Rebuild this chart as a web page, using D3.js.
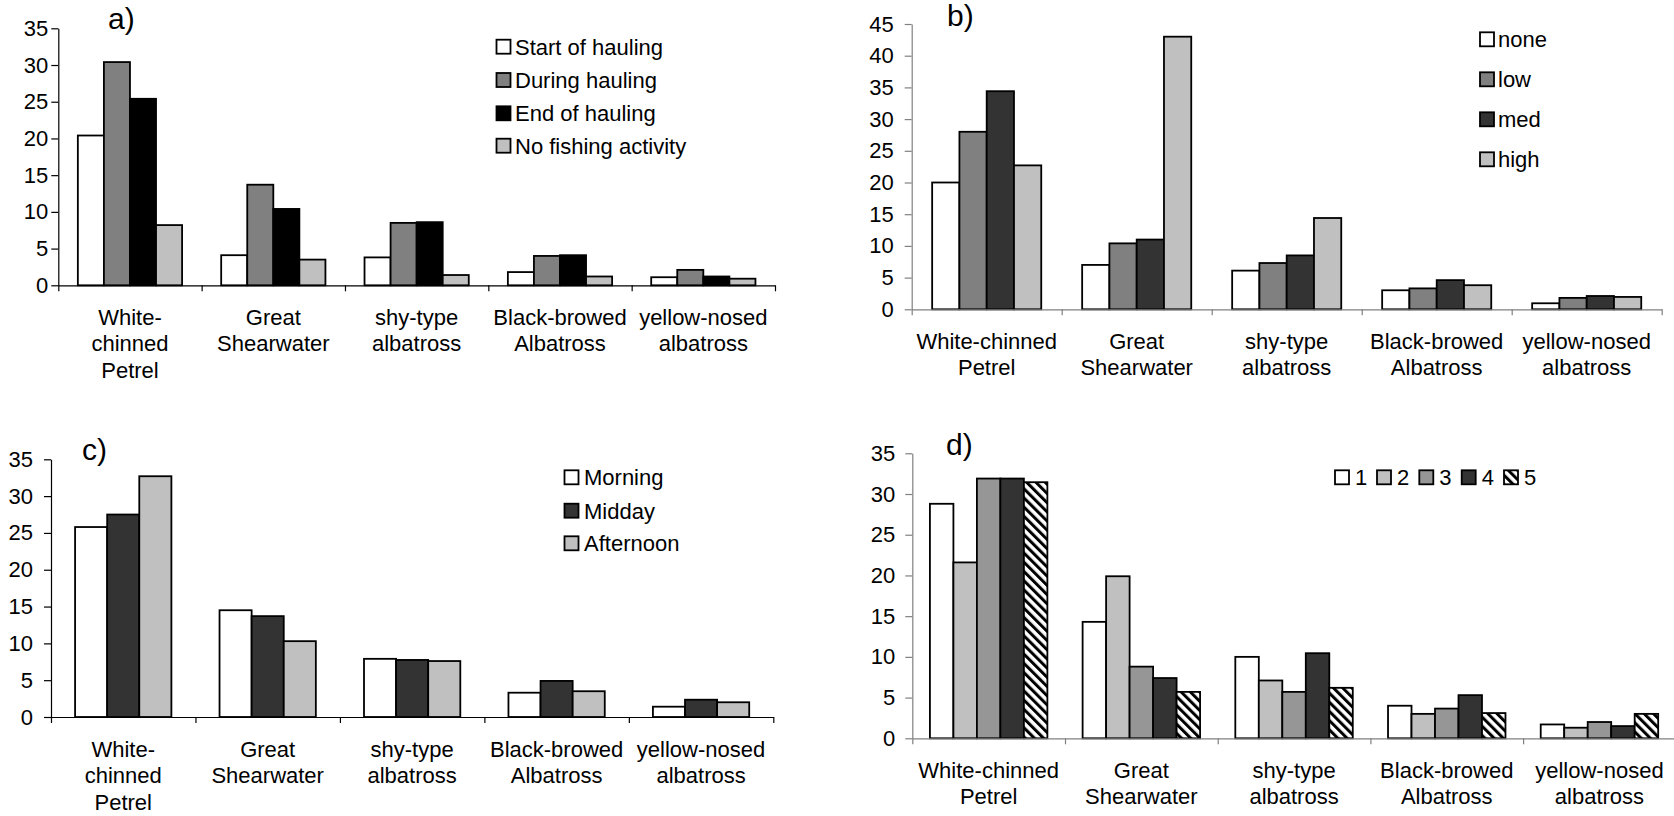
<!DOCTYPE html>
<html>
<head>
<meta charset="utf-8">
<script src="https://cdn.jsdelivr.net/npm/d3@7/dist/d3.min.js"></script>
<style>
  html, body { margin: 0; padding: 0; background: #fff; }
  svg { display: block; font-family: "Liberation Sans", Arial, sans-serif; }
</style>
</head>
<body>
<svg id="chart" width="1674" height="816"></svg>
<script>
// Species shown along every x axis
const categories = ["White-chinned Petrel", "Great Shearwater", "shy-type albatross", "Black-browed Albatross", "yellow-nosed albatross"];
const labelsNarrow = [["White-", "chinned", "Petrel"], ["Great", "Shearwater"], ["shy-type", "albatross"], ["Black-browed", "Albatross"], ["yellow-nosed", "albatross"]];
const labelsWide = [["White-chinned", "Petrel"], ["Great", "Shearwater"], ["shy-type", "albatross"], ["Black-browed", "Albatross"], ["yellow-nosed", "albatross"]];

// a) fishing activity
const stagesA = ["Start of hauling", "During hauling", "End of hauling", "No fishing activity"];
const startHauling  = [20.4, 4.1, 3.8, 1.8, 1.1];
const duringHauling = [30.4, 13.7, 8.5, 4.0, 2.1];
const endHauling    = [25.4, 10.4, 8.6, 4.1, 1.2];
const noFishing     = [8.2, 3.5, 1.4, 1.2, 0.9];
const ticksA = [0, 5, 10, 15, 20, 25, 30, 35];

// b) none / low / med / high
const levelsB = ["none", "low", "med", "high"];
const levelNone = [20.0, 7.0, 6.1, 3.0, 0.95];
const levelLow  = [28.0, 10.4, 7.3, 3.3, 1.8];
const levelMed  = [34.4, 11.0, 8.5, 4.6, 2.1];
const levelHigh = [22.7, 43.0, 14.4, 3.8, 1.95];
const ticksB = [0, 5, 10, 15, 20, 25, 30, 35, 40, 45];

// c) time of day
const periodsC = ["Morning", "Midday", "Afternoon"];
const morning   = [25.8, 14.5, 7.9, 3.3, 1.4];
const midday    = [27.5, 13.7, 7.75, 4.9, 2.35];
const afternoon = [32.7, 10.3, 7.6, 3.5, 2.0];
const ticksC = [0, 5, 10, 15, 20, 25, 30, 35];

// d) classes 1-5
const classesD = ["1", "2", "3", "4", "5"];
const class1 = [28.8, 14.3, 10.0, 4.0, 1.7];
const class2 = [21.6, 19.9, 7.1, 3.0, 1.3];
const class3 = [31.9, 8.8, 5.7, 3.65, 2.0];
const class4 = [31.9, 7.4, 10.45, 5.3, 1.5];
const class5 = [31.45, 5.7, 6.2, 3.1, 3.0];
const ticksD = [0, 5, 10, 15, 20, 25, 30, 35];

const svg = d3.select("#chart");
const FONT = 22;

// diagonal hatch for class 5
const defs = svg.append("defs");
const hatch = defs.append("pattern")
  .attr("id", "hatch")
  .attr("patternUnits", "userSpaceOnUse")
  .attr("width", 6.5).attr("height", 6.5)
  .attr("patternTransform", "rotate(-45)");
hatch.append("rect").attr("width", 6.5).attr("height", 6.5).attr("fill", "#fff");
hatch.append("rect").attr("width", 3).attr("height", 6.5).attr("fill", "#000");

const panels = [
  {
    title: "a)", titleX: 108, titleY: 29,
    left: 58.3, right: 775, bottom: 285.3, top: 28.3, max: 35, ticks: ticksA,
    axisColor: "#000", tickPad: 3, labels: labelsNarrow,
    series: stagesA, values: [startHauling, duringHauling, endHauling, noFishing],
    fills: ["#ffffff", "#808080", "#000000", "#c0c0c0"],
    legend: { x: 496.5, rows: [46.7, 80, 113.3, 145.7], textDx: 18.5 }
  },
  {
    title: "b)", titleX: 947, titleY: 26,
    left: 911.7, right: 1661.7, bottom: 309.3, top: 24, max: 45, ticks: ticksB,
    axisColor: "#808080", tickPad: 11, labels: labelsWide,
    series: levelsB, values: [levelNone, levelLow, levelMed, levelHigh],
    fills: ["#ffffff", "#808080", "#333333", "#c0c0c0"],
    legend: { x: 1480, rows: [39.3, 79.3, 119.3, 159.3], textDx: 18 }
  },
  {
    title: "c)", titleX: 82, titleY: 460,
    left: 51, right: 773.3, bottom: 717, top: 459.3, max: 35, ticks: ticksC,
    axisColor: "#000", tickPad: 11, labels: labelsNarrow,
    series: periodsC, values: [morning, midday, afternoon],
    fills: ["#ffffff", "#333333", "#c0c0c0"],
    legend: { x: 564.5, rows: [477.3, 510.7, 543.3], textDx: 19.5 }
  },
  {
    title: "d)", titleX: 946, titleY: 455,
    left: 912.3, right: 1675.8, bottom: 738.3, top: 453.3, max: 35, ticks: ticksD,
    axisColor: "#808080", tickPad: 10, labels: labelsWide,
    series: classesD, values: [class1, class2, class3, class4, class5],
    fills: ["#ffffff", "#c0c0c0", "#969696", "#333333", "url(#hatch)"],
    legendRow: { y: 477.3, xs: [1335, 1377, 1419.3, 1461.7, 1504], textDx: 20 }
  }
];

panels.forEach(p => {
  const g = svg.append("g");

  const y = d3.scaleLinear().domain([0, p.max]).range([p.bottom, p.top]);
  const x0 = d3.scaleBand().domain(categories).range([p.left, p.right]).padding(0);
  const x1 = d3.scaleBand().domain(p.series).range([0, x0.bandwidth()])
    .paddingInner(0).paddingOuter(0.75);
  const xEdge = d3.scaleLinear().domain([0, categories.length]).range([p.left, p.right]);

  // bars
  p.series.forEach((s, si) => {
    g.append("g").selectAll("rect")
      .data(p.values[si])
      .join("rect")
      .attr("x", (d, i) => x0(categories[i]) + x1(s))
      .attr("y", d => y(d))
      .attr("width", x1.bandwidth())
      .attr("height", d => y(0) - y(d))
      .attr("fill", p.fills[si])
      .attr("stroke", "#000")
      .attr("stroke-width", 1.8);
  });

  // y axis
  const ya = g.append("g")
    .attr("transform", `translate(${p.left},0)`)
    .call(d3.axisLeft(y).tickValues(p.ticks).tickSize(7).tickSizeOuter(0).tickPadding(p.tickPad));
  ya.selectAll("path, line").attr("stroke", p.axisColor).attr("stroke-width", 1.2);
  ya.selectAll("text").attr("font-size", FONT).attr("fill", "#000").attr("font-family", null);

  // x axis with ticks at the category boundaries
  const xa = g.append("g")
    .attr("transform", `translate(0,${p.bottom})`)
    .call(d3.axisBottom(xEdge).tickValues(d3.range(categories.length + 1)).tickSize(6).tickSizeOuter(0).tickFormat(""));
  xa.selectAll("path, line").attr("stroke", p.axisColor).attr("stroke-width", 1.2);

  // category labels
  const lab = g.append("g").selectAll("text")
    .data(p.labels)
    .join("text")
    .attr("text-anchor", "middle")
    .attr("font-size", FONT)
    .attr("x", (d, i) => x0(categories[i]) + x0.bandwidth() / 2)
    .attr("y", p.bottom + 39.5);
  lab.selectAll("tspan")
    .data(d => d)
    .join("tspan")
    .attr("x", function () { return d3.select(this.parentNode).attr("x"); })
    .attr("dy", (d, i) => i === 0 ? 0 : 26.5)
    .text(d => d);

  // panel letter
  g.append("text")
    .attr("x", p.titleX).attr("y", p.titleY)
    .attr("font-size", 30)
    .text(p.title);

  // legend
  if (p.legend) {
    const lg = g.append("g").selectAll("g")
      .data(p.series)
      .join("g")
      .attr("transform", (d, i) => `translate(${p.legend.x},${p.legend.rows[i]})`);
    lg.append("rect")
      .attr("x", 0).attr("y", -7).attr("width", 14).attr("height", 14)
      .attr("fill", (d, i) => p.fills[i]).attr("stroke", "#000").attr("stroke-width", 1.8);
    lg.append("text")
      .attr("x", p.legend.textDx).attr("y", 8)
      .attr("font-size", FONT)
      .text(d => d);
  }
  if (p.legendRow) {
    const lg = g.append("g").selectAll("g")
      .data(p.series)
      .join("g")
      .attr("transform", (d, i) => `translate(${p.legendRow.xs[i]},${p.legendRow.y})`);
    lg.append("rect")
      .attr("x", 0).attr("y", -7).attr("width", 14).attr("height", 14)
      .attr("fill", (d, i) => p.fills[i]).attr("stroke", "#000").attr("stroke-width", 1.8);
    lg.append("text")
      .attr("x", p.legendRow.textDx).attr("y", 8)
      .attr("font-size", FONT)
      .text(d => d);
  }
});
</script>
</body>
</html>
